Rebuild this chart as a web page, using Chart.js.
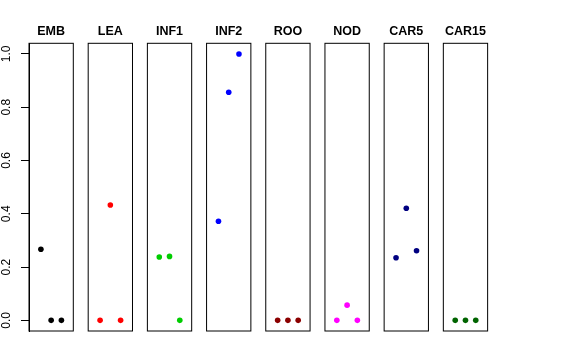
<!DOCTYPE html>
<html>
<head>
<meta charset="utf-8">
<script src="https://cdn.jsdelivr.net/npm/chart.js@4.4.1/dist/chart.umd.min.js"></script>
<style>
  html, body { margin: 0; padding: 0; background: #fff; }
  #wrap { position: relative; width: 576px; height: 360px; }
  #wrap canvas { position: absolute; left: 0; top: 0; }
</style>
</head>
<body>
<div id="wrap"></div>
<script>
// one small panel per sample, three points in each
const panels = ['EMB', 'LEA', 'INF1', 'INF2', 'ROO', 'NOD', 'CAR5', 'CAR15'];
const xPositions = [1, 2, 3];
const embValues = [0.267, 0, 0];
const leaValues = [0, 0.433, 0];
const inf1Values = [0.238, 0.240, 0];
const inf2Values = [0.372, 0.856, 1.0];
const rooValues = [0, 0, 0];
const nodValues = [0, 0.057, 0];
const car5Values = [0.235, 0.421, 0.261];
const car15Values = [0, 0, 0];
const yTicks = [0, 0.2, 0.4, 0.6, 0.8, 1.0];

const panelValues = [embValues, leaValues, inf1Values, inf2Values, rooValues, nodValues, car5Values, car15Values];
const panelColors = ['#000000', '#ff0000', '#00cd00', '#0000ff', '#8b0000', '#ff00ff', '#000080', '#006400'];

const W = 576, H = 360;
const firstLeft = 29, step = 59.19, boxWidth = 44.3;

Chart.defaults.font.family = '"Liberation Sans", Arial, Helvetica, sans-serif';
Chart.defaults.color = '#000';

// frame around each plot area
const boxPlugin = {
  id: 'box',
  afterDraw(chart) {
    const a = chart.chartArea;
    const ctx = chart.ctx;
    ctx.save();
    ctx.strokeStyle = '#000';
    ctx.lineWidth = 1;
    ctx.strokeRect(a.left, a.top, a.right - a.left, a.bottom - a.top);
    ctx.restore();
  }
};

const wrap = document.getElementById('wrap');

panels.forEach(function (name, i) {
  const canvas = document.createElement('canvas');
  canvas.width = W;
  canvas.height = H;
  wrap.appendChild(canvas);

  const first = i === 0;
  const left = firstLeft + i * step;

  new Chart(canvas, {
    type: 'scatter',
    data: {
      datasets: [{
        data: xPositions.map(function (x, k) { return {x: x, y: panelValues[i][k]}; }),
        backgroundColor: panelColors[i],
        borderWidth: 0,
        pointRadius: 2.8
      }]
    },
    options: {
      responsive: false,
      animation: false,
      events: [],
      layout: {
        padding: {left: first ? 0 : left, right: W - left - boxWidth, top: 0, bottom: 29}
      },
      plugins: {
        legend: {display: false},
        tooltip: {enabled: false},
        title: {
          display: true,
          text: name,
          fullSize: false,
          color: '#000',
          font: {size: 12.5, weight: 'bold'},
          padding: {top: 23.7, bottom: 4.6}
        }
      },
      scales: {
        x: {type: 'linear', min: -0.16, max: 4.16, display: false},
        y: {
          min: -0.04,
          max: 1.04,
          display: first,
          afterBuildTicks: function (s) { s.ticks = yTicks.map(function (v) { return {value: v}; }); },
          afterFit: function (s) { if (first) s.width = firstLeft; },
          grid: {drawOnChartArea: false, drawTicks: true, tickLength: 8, color: '#000'},
          border: {display: true, color: '#000'},
          ticks: {
            minRotation: 90,
            maxRotation: 90,
            crossAlign: 'center',
            padding: 6,
            font: {size: 12},
            color: '#000',
            callback: function (v) { return v.toFixed(1); }
          }
        }
      }
    },
    plugins: [boxPlugin]
  });
});
</script>
</body>
</html>
